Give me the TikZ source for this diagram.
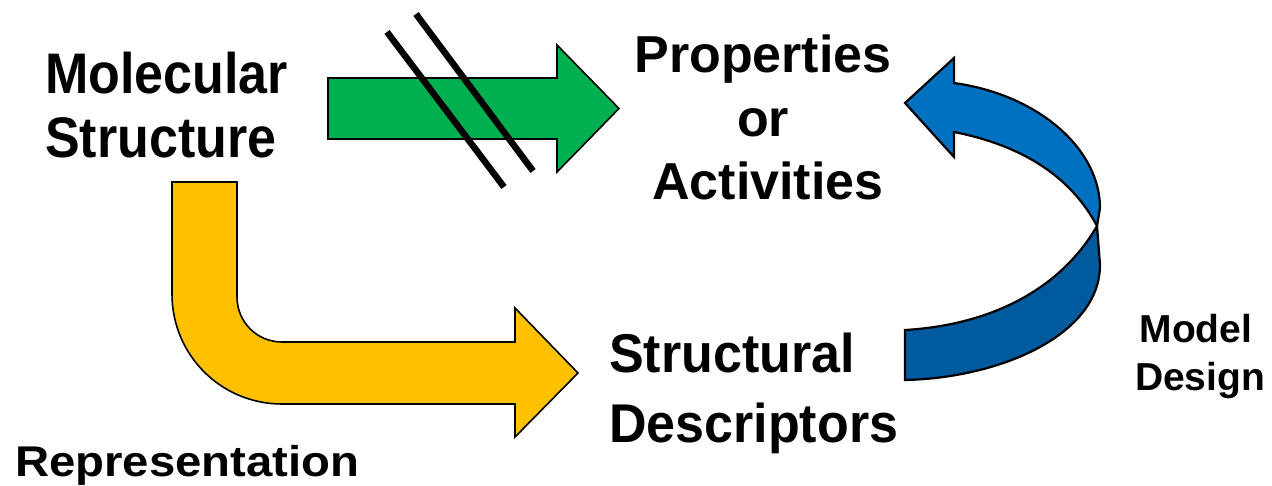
\documentclass[tikz,border=0pt]{standalone}
\usepackage{fontspec}
\setmainfont{Liberation Sans}
\definecolor{ggreen}{HTML}{00B050}
\definecolor{gyellow}{HTML}{FFC000}
\definecolor{gblue}{HTML}{0070C0}
\definecolor{gbluedark}{HTML}{005A9E}
\begin{document}
\begin{tikzpicture}[x=1pt,y=-1pt,
  lbl/.style={inner sep=0pt,font=\fontsize{52}{62}\selectfont\bfseries},
  lblsmall/.style={inner sep=0pt,font=\fontsize{39}{47}\selectfont\bfseries},
  lblrep/.style={inner sep=0pt,font=\fontsize{43}{52}\selectfont\bfseries},
  arr/.style={draw=black,line width=1.6pt,line join=miter},
  barr/.style={draw=black,line width=2.2pt,line join=miter},
  slash/.style={draw=black,line width=6.5pt}]
\useasboundingbox (0,0) rectangle (1272,486);
% green arrow
\path[arr,fill=ggreen] (328,78) -- (557,78) -- (557,45) -- (619,108.5) -- (557,172) -- (557,139) -- (328,139) -- cycle;
% slashes
\draw[slash] (387,32) -- (504,187);
\draw[slash] (416,14) -- (533,171);
% yellow arrow
\path[arr,fill=gyellow] (172,182) -- (237,182) -- (237,297)
  .. controls (237,322) and (257,342) .. (282,342) -- (515,342) -- (515,308)
  -- (578,373) -- (515,437) -- (515,404) -- (282,404)
  .. controls (221,404) and (172,355) .. (172,294) -- cycle;
% blue curved arrow
\path[barr,fill=gbluedark] (1097,226) .. controls (1060,290) and (990,325) .. (905,330)
  -- (905,380) .. controls (1000,378) and (1100,335) .. (1100,265) -- cycle;
\path[barr,fill=gblue] (905,103) -- (954,58) -- (954,83)
  .. controls (1040,95) and (1100,150) .. (1100,208) -- (1097,226)
  .. controls (1070,175) and (1020,145) .. (954,132) -- (954,157) -- cycle;
% texts
\node[lbl,anchor=base west] (mol1) at (45,94) {\scalebox{1}[1.1]{Molecular}};
\node[lbl,anchor=base west] (mol2) at (45,158) {\scalebox{1}[1.1]{Structure}};
\node[lbl,anchor=base] (prop1) at (763,73) {Properties};
\node[lbl,anchor=base] (prop2) at (763,137) {or};
\node[lbl,anchor=base] (prop3) at (768,200) {Activities};
\node[lbl,anchor=base west] (sd1) at (609,373) {\scalebox{1}[1.05]{Structural}};
\node[lbl,anchor=base west] (sd2) at (609,442) {\scalebox{1}[1.05]{Descriptors}};
\node[lblsmall,anchor=base] (md1) at (1196,342) {Model};
\node[lblsmall,anchor=base] (md2) at (1200,390) {Design};
\node[lblrep,anchor=base west] (rep) at (15,476) {\scalebox{1.1}[1]{Representation}};
\end{tikzpicture}
\end{document}
